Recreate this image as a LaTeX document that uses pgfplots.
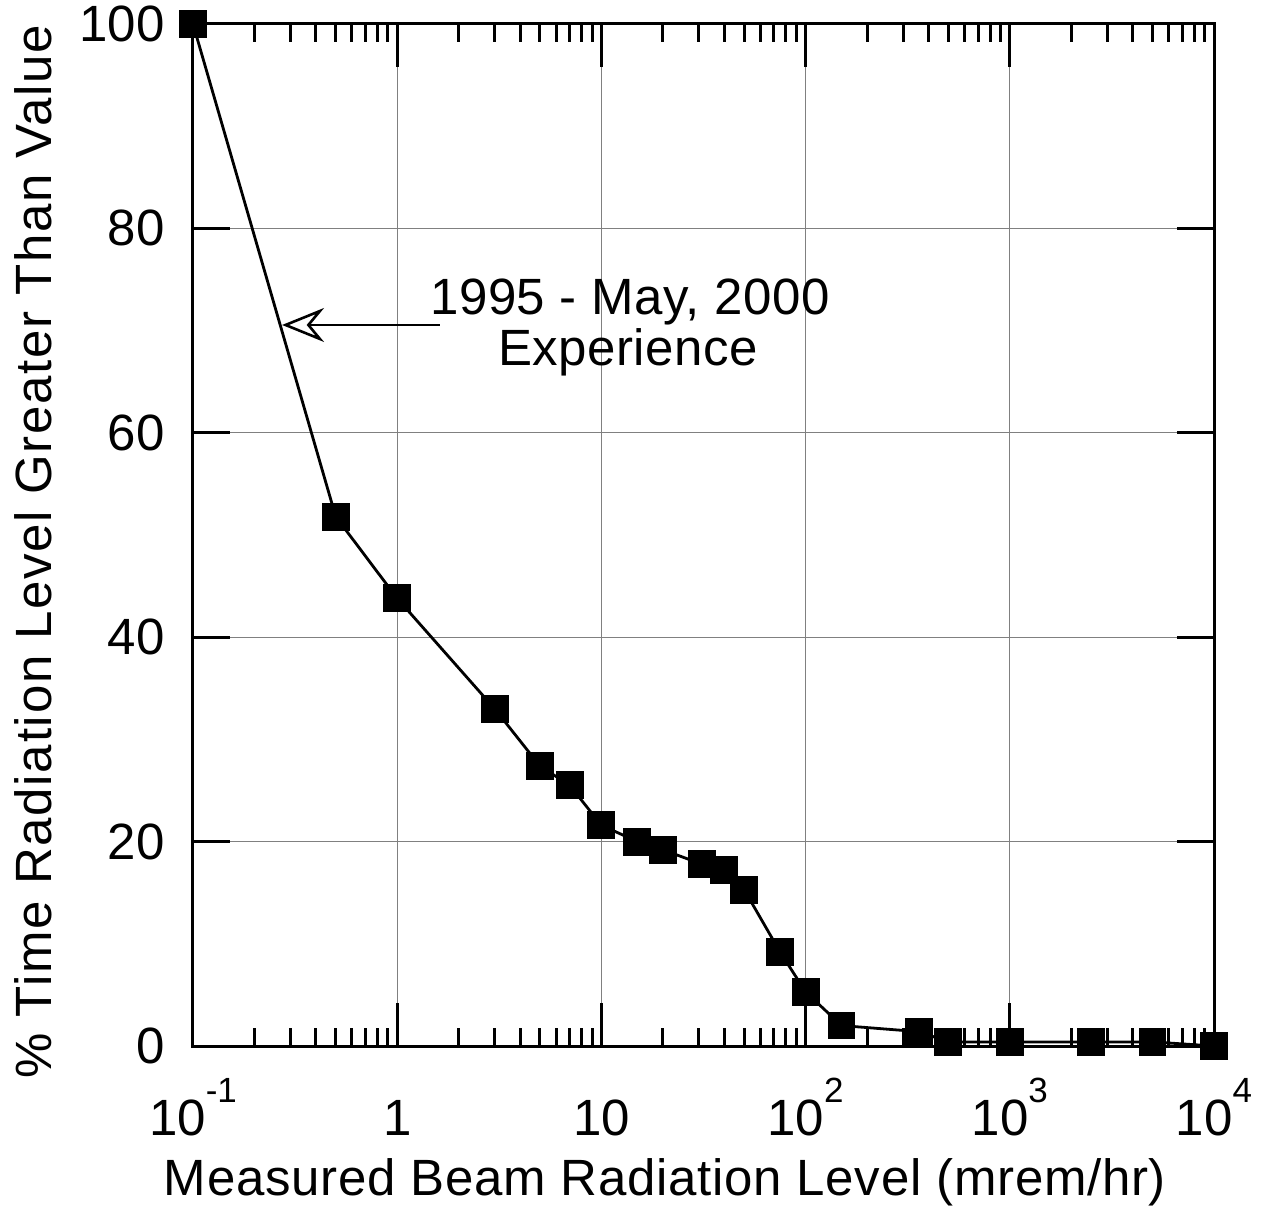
\documentclass[border=0pt]{standalone}
\usepackage{fontspec}
\setmainfont{Liberation Sans}
\usepackage{pgfplots}
\pgfplotsset{compat=1.18}
\usetikzlibrary{arrows.meta}
\newcommand\ex[1]{\raisebox{16.5pt}{\fontsize{17.5}{17.5}\selectfont #1}}
\begin{document}
\begin{tikzpicture}[font=\fontsize{25.5}{30}\selectfont]
\begin{axis}[
  name=ax,
  scale only axis, width=510.5pt, height=511pt,
  xmode=log, xmin=0.1, xmax=10000,
  ymin=0, ymax=100,
  xtick={0.1,1,10,100,1000,10000},
  xticklabels={10\ex{-1},1,10,10\ex{2},10\ex{3},10\ex{4}},
  minor xtick={0.2,0.3,0.4,0.5,0.6,0.7,0.8,0.9,2,3,4,5,6,7,8,9,20,30,40,50,60,70,80,90,200,300,400,500,600,700,800,900,2000,3000,4000,5000,6000,7000,8000,9000},
  ytick={0,20,40,60,80,100},
  tick align=inside, tick pos=both,
  major tick length=21.5pt, minor tick length=9pt,
  ytick style={/pgfplots/major tick length=18.5pt},
  every tick/.style={black, line width=1.5pt},
  axis line style={line width=1.5pt},
  grid=major, major grid style={gray, line width=0.5pt},
  /pgf/number format/assume math mode=true,
  tick label style={font=\fontsize{25.5}{30}\selectfont},
  xticklabel style={anchor=base, yshift=-44.5pt},
  yticklabel style={anchor=east, inner sep=0pt, xshift=-14pt},
  xlabel={Measured Beam Radiation Level (mrem/hr)},
  ylabel={\% Time Radiation Level Greater Than Value},
  xlabel style={at={(rel axis cs:0.4623,-0.1458)}, anchor=base,
    font=\fontsize{25.5}{30}\selectfont\addfontfeatures{LetterSpace=1.4}},
  ylabel style={at={(rel axis cs:-0.1567,0.4838)}, anchor=center,
    font=\fontsize{25.5}{30}\selectfont\addfontfeatures{LetterSpace=3.4}},
  clip=false,
]
\addplot[black, line width=1.4pt, mark=square*, mark size=6.25pt, mark options={solid, fill=black}] coordinates {
  (0.1,100) (0.5,51.8) (1,43.8) (3,33.0) (5,27.4) (7,25.5) (10,21.6)
  (15,20.0) (20,19.2) (31,17.8) (40,17.2) (50,15.3) (75,9.2) (100,5.3)
  (150,2.0) (360,1.4) (500,0.4) (1000,0.4) (2500,0.4) (5000,0.4) (10000,0)
};
\draw[line width=1.3pt, -{Stealth[open, length=21pt, width=17pt, inset=7pt]}] (axis cs:1.62,70.55) -- (axis cs:0.273,70.55);
\node[anchor=base, inner sep=0pt, font=\fontsize{25.5}{30}\selectfont\addfontfeatures{LetterSpace=1}] at (axis cs:13.8,71.53) {1995 - May, 2000};
\node[anchor=base, inner sep=0pt, font=\fontsize{25.5}{30}\selectfont\addfontfeatures{LetterSpace=1}] at (axis cs:13.5,66.54) {Experience};
\end{axis}
\pgfresetboundingbox
\path[use as bounding box] ([xshift=-96.5pt,yshift=-80.5pt]ax.south west) rectangle ([xshift=30pt,yshift=12pt]ax.north east);
\end{tikzpicture}
\end{document}
